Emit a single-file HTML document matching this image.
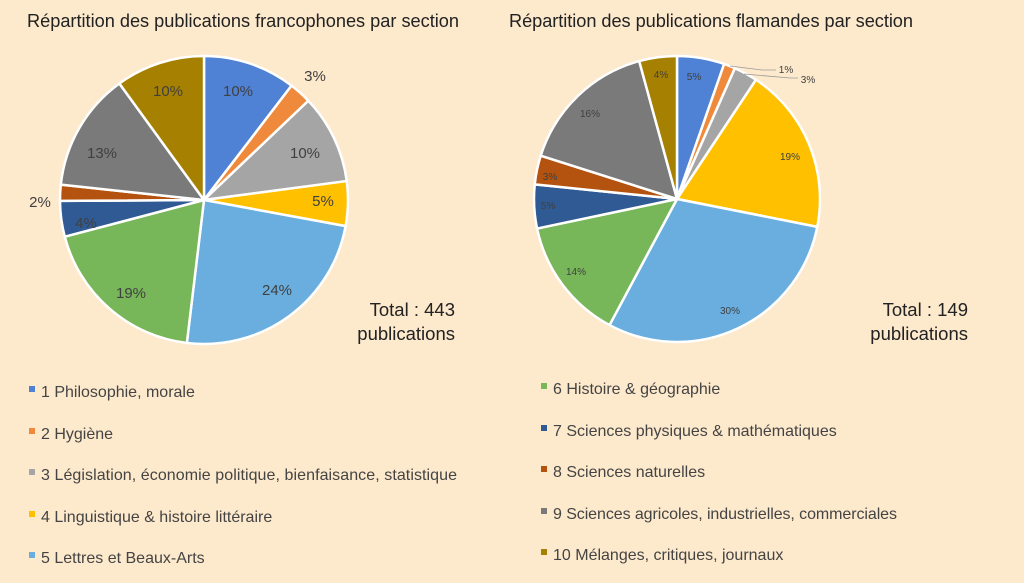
<!DOCTYPE html>
<html><head><meta charset="utf-8"><style>
body{margin:0;background:#fde9cc;}
svg{display:block;font-family:"Liberation Sans",sans-serif;}
</style></head><body>
<svg id="s" width="1024" height="583" xmlns="http://www.w3.org/2000/svg">
<rect width="1024" height="583" fill="#fde9cc"/>
<text x="27" y="27" font-size="18.2" fill="#222" textLength="432">Répartition des publications francophones par section</text>
<text x="509" y="27" font-size="18.2" fill="#222" textLength="404">Répartition des publications flamandes par section</text>
<g id="p1"></g><g id="p2"></g>
<g font-size="15" fill="#404040" text-anchor="middle">
<text x="238" y="96">10%</text><text x="315" y="81">3%</text><text x="305" y="158">10%</text>
<text x="323" y="206">5%</text><text x="277" y="295">24%</text><text x="131" y="298">19%</text>
<text x="86" y="228">4%</text><text x="40" y="207">2%</text><text x="102" y="158">13%</text><text x="168" y="96">10%</text>
</g>
<g font-size="10" fill="#404040" text-anchor="middle">
<text x="694" y="80">5%</text><text x="786" y="73">1%</text><text x="808" y="83">3%</text>
<text x="790" y="160">19%</text><text x="730" y="314">30%</text><text x="576" y="275">14%</text>
<text x="548" y="209">5%</text><text x="550" y="180">3%</text><text x="590" y="117">16%</text><text x="661" y="78">4%</text>
</g>
<g stroke="#999" stroke-width="0.8" fill="none">
<polyline points="730,66 762,70 776,70"/><polyline points="744,74 790,78 798,78"/>
</g>
<g font-size="18.5" fill="#222" text-anchor="end">
<text x="455" y="316">Total : 443</text><text x="455" y="340">publications</text>
<text x="968" y="316">Total : 149</text><text x="968" y="340">publications</text>
</g>
<g font-size="16" fill="#444">
<rect x="29" y="386" width="6" height="6" fill="#4f81d4"/><text x="41" y="397">1 Philosophie, morale</text>
<rect x="29" y="428" width="6" height="6" fill="#ef8a3c"/><text x="41" y="439">2 Hygiène</text>
<rect x="29" y="469" width="6" height="6" fill="#a5a5a5"/><text x="41" y="480" textLength="416">3 Législation, économie politique, bienfaisance, statistique</text>
<rect x="29" y="511" width="6" height="6" fill="#ffc000"/><text x="41" y="522">4 Linguistique &amp; histoire littéraire</text>
<rect x="29" y="552" width="6" height="6" fill="#6aaee0"/><text x="41" y="563">5 Lettres et Beaux-Arts</text>
<rect x="541" y="383" width="6" height="6" fill="#78b65a"/><text x="553" y="394">6 Histoire &amp; géographie</text>
<rect x="541" y="425" width="6" height="6" fill="#2f5a94"/><text x="553" y="436">7 Sciences physiques &amp; mathématiques</text>
<rect x="541" y="466" width="6" height="6" fill="#b3530f"/><text x="553" y="477">8 Sciences naturelles</text>
<rect x="541" y="508" width="6" height="6" fill="#7a7a7a"/><text x="553" y="519" textLength="344">9 Sciences agricoles, industrielles, commerciales</text>
<rect x="541" y="549" width="6" height="6" fill="#a68000"/><text x="553" y="560">10 Mélanges, critiques, journaux</text>
</g>
</svg>
<script>
var C=["#4f81d4","#ef8a3c","#a5a5a5","#ffc000","#6aaee0","#78b65a","#2f5a94","#b3530f","#7a7a7a","#a68000"];
function pie(id,cx,cy,r,v){var g=document.getElementById(id),a=0,t=0;v.forEach(function(x){t+=x});
v.forEach(function(x,i){var a1=a+x/t*2*Math.PI;
var x0=cx+r*Math.sin(a),y0=cy-r*Math.cos(a),x1=cx+r*Math.sin(a1),y1=cy-r*Math.cos(a1);
var p=document.createElementNS("http://www.w3.org/2000/svg","path");
p.setAttribute("d","M"+cx+","+cy+"L"+x0+","+y0+"A"+r+","+r+" 0 "+(a1-a>Math.PI?1:0)+",1 "+x1+","+y1+"Z");
p.setAttribute("fill",C[i]);p.setAttribute("stroke","#fff");p.setAttribute("stroke-width","2.5");p.setAttribute("stroke-linejoin","round");
g.appendChild(p);a=a1;});}
pie("p1",204,200,144,[10.4,2.5,10,5,24,19,4,1.8,13.3,10]);
pie("p2",677,199,143,[5.4,1.3,2.7,19,30,14,5,3.3,16,4.3]);
</script>
</body></html>
